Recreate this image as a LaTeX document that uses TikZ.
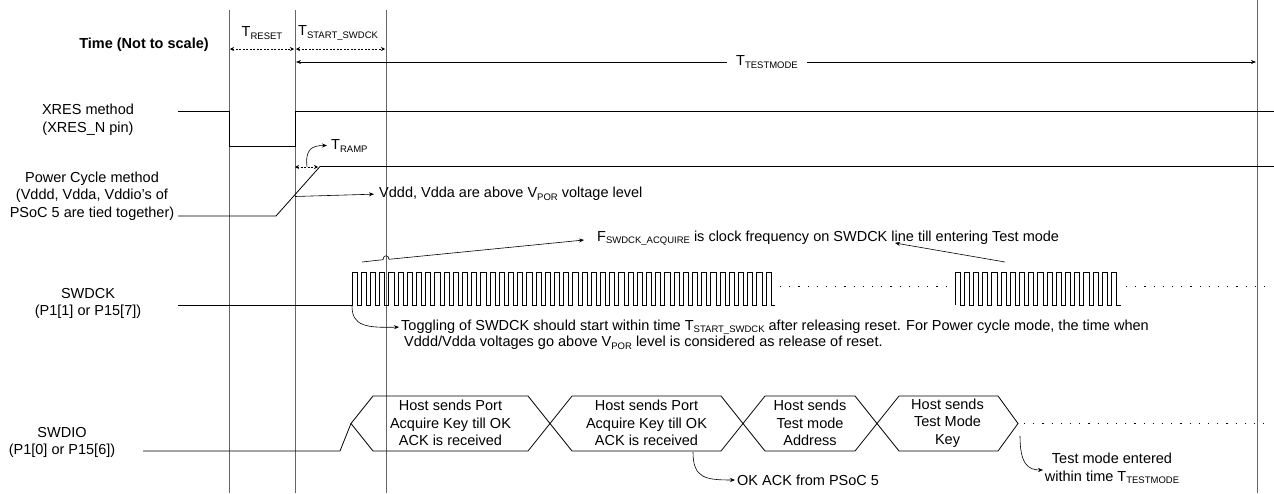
\documentclass[tikz,border=0pt]{standalone}
\usepackage{fontspec}
\setmainfont{Liberation Sans}
\usetikzlibrary{arrows.meta}
\newcommand{\dfont}{\fontsize{14.5}{17.5}\selectfont}
\newcommand{\lsub}[1]{\raisebox{-0.3ex}{\fontsize{9.5}{10}\selectfont #1}}
\begin{document}
\begin{tikzpicture}[x=1pt,y=-1pt,font=\dfont,
  sig/.style={line width=0.8pt},
  guide/.style={line width=0.9pt,black!60},
  lbl/.style={inner sep=0pt,align=center},
  mytip/.tip={Stealth[length=5pt,width=4pt]},
  ann/.style={line width=0.6pt,-{Stealth[length=5pt,width=4pt]}},
  dotline/.style={line width=1pt,dash pattern=on 1.2pt off 8pt},
  dashdbl/.style={line width=0.6pt,dash pattern=on 2pt off 1.5pt,{Stealth[length=4pt,width=4pt]}-{Stealth[length=4pt,width=4pt]}}]
\useasboundingbox (0,0) rectangle (1274,493);

% guide lines
\draw[guide] (229,10) -- (229,493);
\draw[guide] (295,10) -- (295,493);
\draw[guide] (386,10) -- (386,493);
\draw[guide] (1257,0) -- (1257,493);

% time header
\node[lbl,font=\dfont\bfseries] (time) at (144,45) {Time (Not to scale)};
\node[lbl] (treset) at (262,33) {T\lsub{RESET}};
\node[lbl,anchor=west] (tstart) at (298,33) {T\lsub{START\_SWDCK}};
\draw[dashdbl] (230,49) -- (294,49);
\draw[dashdbl] (296,49) -- (385,49);
\draw[line width=0.7pt,{mytip}-{mytip}] (296,62) -- (1256,62);
\node[lbl,fill=white,inner xsep=9pt,inner ysep=2pt] (ttest) at (767,62) {T\lsub{TESTMODE}};

% XRES
\node[lbl] (xres) at (88,119.5) {XRES method\\(XRES\_N pin)};
\draw[sig] (178,111) -- (229,111) -- (229,146) -- (295,146) -- (295,111) -- (1274,111);

% Power cycle
\node[lbl] (pwr) at (92,196) {Power Cycle method\\(Vddd, Vdda, Vddio's of\\PSoC 5 are tied together)};
\draw[sig] (178,216) -- (276,216) -- (320,166.5) -- (1274,166.5);
\draw[dashdbl] (295,167) -- (318,167);
\node[lbl,anchor=west] (tramp) at (331,146) {T\lsub{RAMP}};
\coordinate (rampmid) at (307,167);
\draw[ann] (rampmid) .. controls (305,149) and (312,145.5) .. (327,145.5);
\node[lbl,anchor=west] (vpor) at (379,194) {Vddd, Vdda are above V\lsub{POR} voltage level};
\coordinate (rampx) at (295,196.5);
\draw[ann,shorten >=5pt] (rampx) -- (vpor.west);

% SWDCK
\node[lbl] (swdck) at (88,303.5) {SWDCK\\(P1[1] or P15[7])};
\draw[sig,line join=miter] (178,305) -- (352,305)
  \foreach \k in {1,...,46} { -- ++(0,-33) -- ++(5.2,0) -- ++(0,33) -- ++(4,0) };
\draw[dotline] (780,286) -- (952,286);
\draw[sig,line join=miter] (955,305)
  \foreach \k in {1,...,18} { -- ++(0,-33) -- ++(5.2,0) -- ++(0,33) -- ++(4,0) };
\draw[dotline] (1126,286) -- (1270,286);

\node[lbl,anchor=west] (fsw) at (597,238) {F\lsub{SWDCK\_ACQUIRE} is clock frequency on SWDCK line till entering Test mode};
\coordinate (fs1) at (362,262);
\coordinate (fs2) at (1005,262);
\draw[ann] (fs1) -- (383,259.7) .. controls (383,254.5) and (389,254.5) .. (389,259.3) -- (584,240);
\draw[ann] (fs2) -- (895,243);

\node[lbl,anchor=west] (tog1) at (401,327) {Toggling of SWDCK should start within time T\lsub{START\_SWDCK} after releasing reset. For Power cycle mode, the time when};
\node[lbl,anchor=west] (tog2) at (404,343) {Vddd/Vdda voltages go above V\lsub{POR} level is considered as release of reset.};
\coordinate (clkstart) at (352,306);
\draw[ann,shorten >=2pt] (clkstart) .. controls (352,326) and (366,328) .. (tog1.west);

% SWDIO
\node[lbl] (swdio) at (62,442.5) {SWDIO\\(P1[0] or P15[6])};
\draw[sig] (143,451) -- (340,451) -- (351,423.5);
\draw[sig,line join=miter] (351,423.5) -- (373,396) -- (528,396) -- (550,423.5) -- (528,451) -- (373,451) -- cycle;
\draw[sig,line join=miter] (550,423.5) -- (572,396) -- (721,396) -- (743,423.5) -- (721,451) -- (572,451) -- cycle;
\draw[sig,line join=miter] (743,423.5) -- (765,396) -- (855,396) -- (877,423.5) -- (855,451) -- (765,451) -- cycle;
\draw[sig,line join=miter] (877,423.5) -- (899,396) -- (998,396) -- (1018,423.5) -- (998,451) -- (899,451) -- cycle;
\draw[dotline] (1024,423.5) -- (1270,423.5);

\node[lbl] (b1) at (450.5,423) {Host sends Port\\Acquire Key till OK\\ACK is received};
\node[lbl] (b2) at (646.5,423) {Host sends Port\\Acquire Key till OK\\ACK is received};
\node[lbl] (b3) at (810,423) {Host sends\\Test mode\\Address};
\node[lbl] (b4) at (947.5,423) {Host sends\\Test Mode\\Key};

\node[lbl,anchor=west] (okack) at (737,480) {OK ACK from PSoC 5};
\coordinate (ackpt) at (693,452);
\draw[ann,shorten >=2pt] (ackpt) .. controls (693,478) and (705,480) .. (okack.west);

\node[lbl] (tme) at (1112,468.5) {Test mode entered\\within time T\lsub{TESTMODE}};
\coordinate (tmpt) at (1020,436);
\coordinate (tmend) at (1043,470);
\draw[ann] (tmpt) .. controls (1020,464) and (1028,470) .. (tmend);
\end{tikzpicture}
\end{document}
